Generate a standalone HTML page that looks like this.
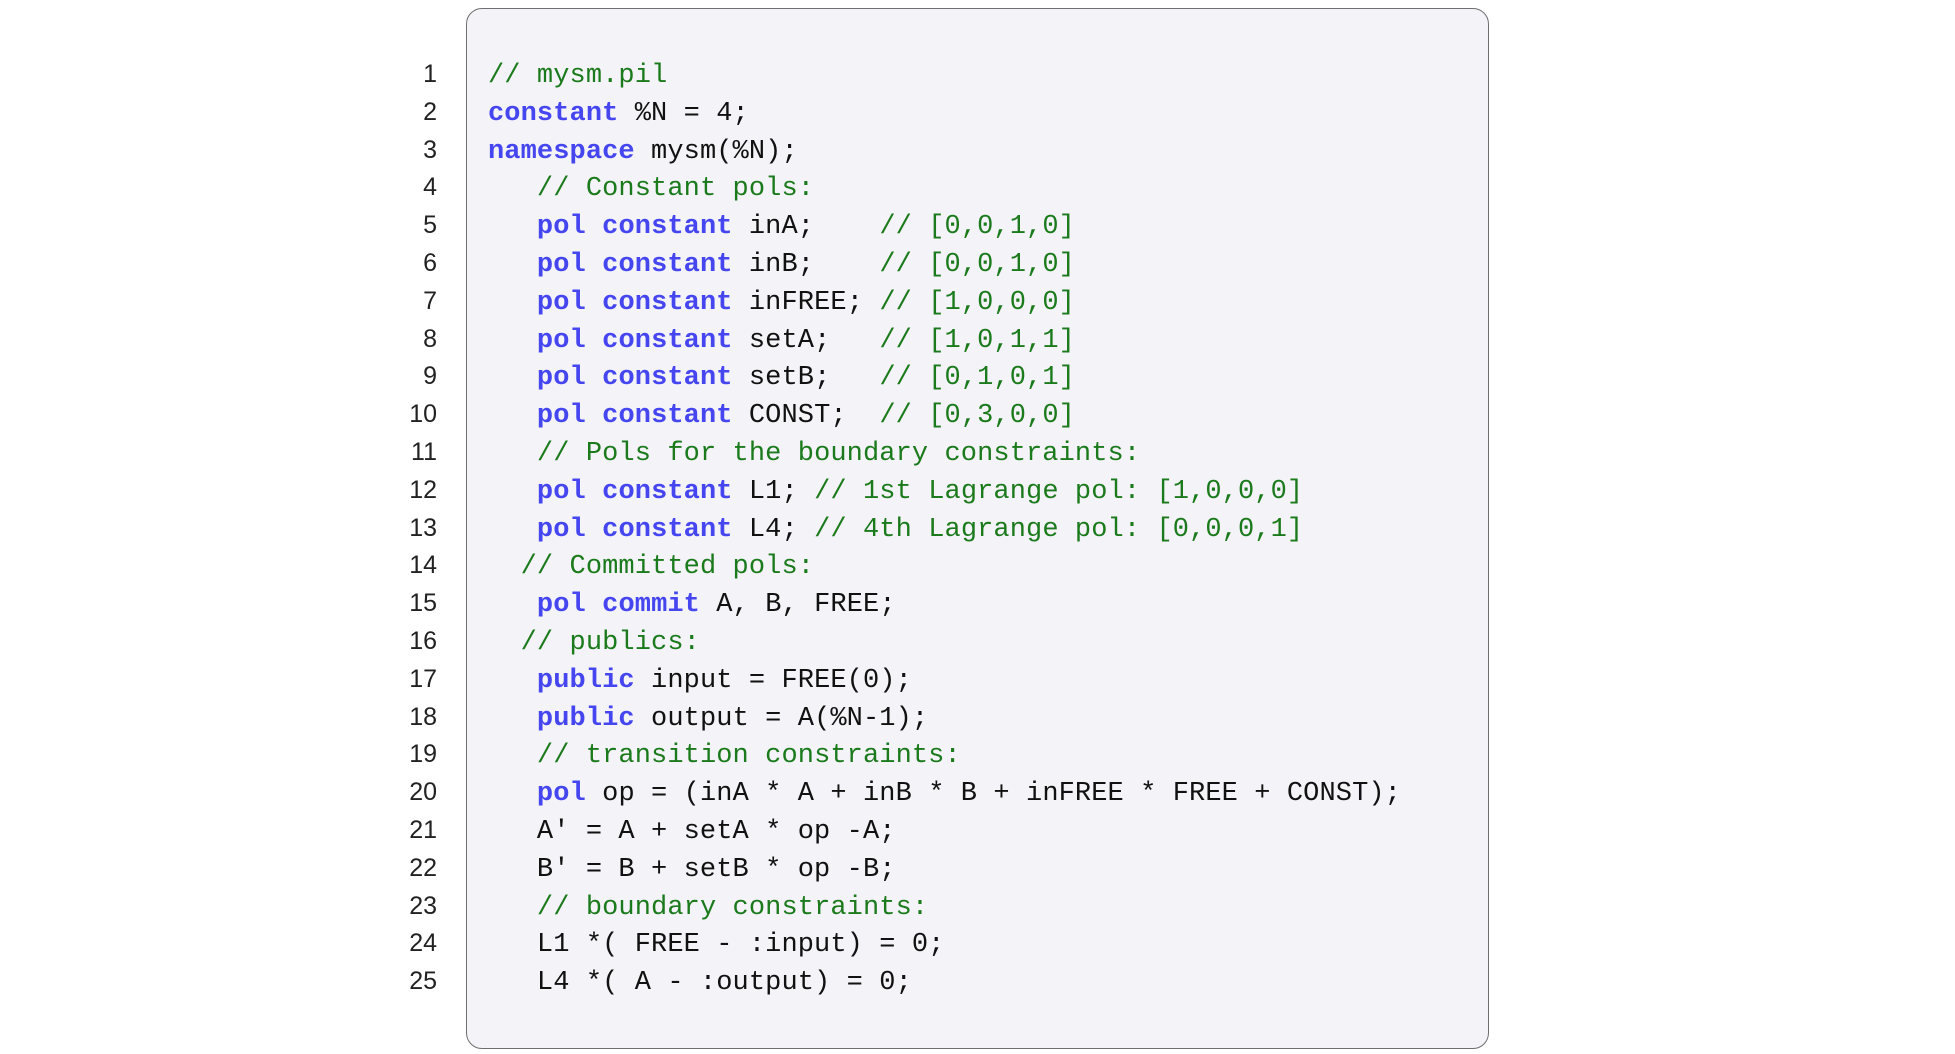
<!DOCTYPE html>
<html><head><meta charset="utf-8"><style>
html,body{margin:0;padding:0;background:#fff;width:1955px;height:1054px;overflow:hidden;position:relative}
.box{position:absolute;left:466px;top:8px;width:1023px;height:1041px;background:#f3f3f8;border:1.5px solid #6e6e6e;border-radius:16px;box-sizing:border-box}
.ln{position:absolute;left:380px;width:57px;text-align:right;font-family:"Liberation Sans",sans-serif;font-size:25px;color:#222}
.cd{position:absolute;left:488px;font-family:"Liberation Mono",monospace;font-size:27px;letter-spacing:0.1px;color:#111;white-space:pre}
.k{color:#4646f0;font-weight:bold}
.c{color:#1b7a1b}
</style></head><body>
<div class="box"></div>
<div id="w"></div>
<script>
var lines=[
'<span class="c">// mysm.pil</span>',
'<span class="k">constant</span> %N = 4;',
'<span class="k">namespace</span> mysm(%N);',
'   <span class="c">// Constant pols:</span>',
'   <span class="k">pol</span> <span class="k">constant</span> inA;    <span class="c">// [0,0,1,0]</span>',
'   <span class="k">pol</span> <span class="k">constant</span> inB;    <span class="c">// [0,0,1,0]</span>',
'   <span class="k">pol</span> <span class="k">constant</span> inFREE; <span class="c">// [1,0,0,0]</span>',
'   <span class="k">pol</span> <span class="k">constant</span> setA;   <span class="c">// [1,0,1,1]</span>',
'   <span class="k">pol</span> <span class="k">constant</span> setB;   <span class="c">// [0,1,0,1]</span>',
'   <span class="k">pol</span> <span class="k">constant</span> CONST;  <span class="c">// [0,3,0,0]</span>',
'   <span class="c">// Pols for the boundary constraints:</span>',
'   <span class="k">pol</span> <span class="k">constant</span> L1; <span class="c">// 1st Lagrange pol: [1,0,0,0]</span>',
'   <span class="k">pol</span> <span class="k">constant</span> L4; <span class="c">// 4th Lagrange pol: [0,0,0,1]</span>',
'  <span class="c">// Committed pols:</span>',
'   <span class="k">pol</span> <span class="k">commit</span> A, B, FREE;',
'  <span class="c">// publics:</span>',
'   <span class="k">public</span> input = FREE(0);',
'   <span class="k">public</span> output = A(%N-1);',
'   <span class="c">// transition constraints:</span>',
'   <span class="k">pol</span> op = (inA * A + inB * B + inFREE * FREE + CONST);',
'   A\' = A + setA * op -A;',
'   B\' = B + setB * op -B;',
'   <span class="c">// boundary constraints:</span>',
'   L1 *( FREE - :input) = 0;',
'   L4 *( A - :output) = 0;'
];
var h='';
for(var i=0;i<lines.length;i++){
 var y=75+i*37.8;
 h+='<div class="ln" style="top:'+(y-15)+'px">'+(i+1)+'</div>';
 h+='<div class="cd" style="top:'+(y-14)+'px">'+lines[i]+'</div>';
}
document.getElementById('w').innerHTML=h;
</script>
</body></html>
